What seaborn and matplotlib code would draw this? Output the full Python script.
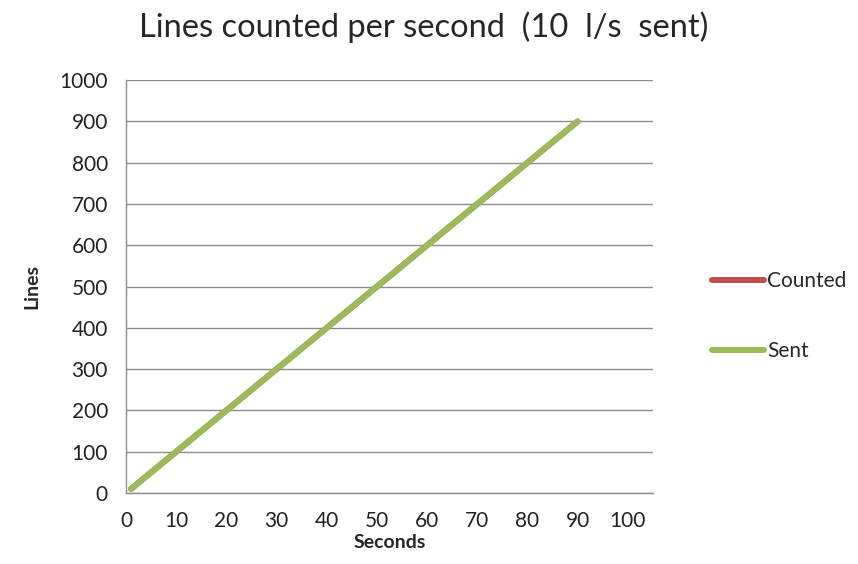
import matplotlib
matplotlib.use("Agg")
import matplotlib.pyplot as plt
import seaborn as sns
import pandas as pd

seconds = [1, 10, 20, 30, 40, 50, 60, 70, 80, 90]
counted = [10, 100, 200, 300, 400, 500, 600, 700, 800, 900]
sent = [10, 100, 200, 300, 400, 500, 600, 700, 800, 900]
x_ticks = [0, 10, 20, 30, 40, 50, 60, 70, 80, 90, 100]
y_ticks = [0, 100, 200, 300, 400, 500, 600, 700, 800, 900, 1000]

sns.set_style("white")
plt.rcParams['font.family'] = ['Lato', 'DejaVu Sans']

df = pd.DataFrame({
    "Seconds": seconds * 2,
    "Lines": counted + sent,
    "Series": ["Counted"] * len(seconds) + ["Sent"] * len(seconds),
})

fig = plt.figure(figsize=(8.58, 5.64), dpi=100)
ax = fig.add_axes([0.1469, 0.1259, 0.761 - 0.1469, 0.858 - 0.1259])
grid_c = "#8c8c8c"
sns.lineplot(data=df, x="Seconds", y="Lines", hue="Series",
             palette={"Counted": "#C0504D", "Sent": "#9BBB59"},
             linewidth=4.3, ax=ax, legend=False)
for l in ax.lines:
    l.set_solid_capstyle("round")

ax.set_xlim(0, 105)
ax.set_ylim(0, 1000)
ax.set_xticks(x_ticks)
ax.set_yticks(y_ticks)
ax.set_xticklabels([str(v) for v in x_ticks], fontsize=15, color="#222222")
ax.set_yticklabels([str(v) for v in y_ticks], fontsize=15, color="#222222")
ax.yaxis.grid(True, color=grid_c, linewidth=1.0)
ax.set_axisbelow(True)
for s in ["top", "right"]:
    ax.spines[s].set_visible(False)
for s in ["left", "bottom"]:
    ax.spines[s].set_color(grid_c)
    ax.spines[s].set_linewidth(1.0)
ax.tick_params(axis="both", which="major", direction="out", length=8,
               width=1.0, color=grid_c, pad=5)

ax.set_xlabel("Seconds", fontsize=14, fontweight="bold", labelpad=2)
ax.set_ylabel("Lines", fontsize=14, fontweight="bold", labelpad=14)
fig.suptitle("Lines counted per second  (10  l/s  sent)", fontsize=23.5,
             x=0.494, y=0.98, va="top")

from matplotlib.lines import Line2D
handles = [Line2D([0], [0], color="#C0504D", lw=4.3, solid_capstyle="round"),
           Line2D([0], [0], color="#9BBB59", lw=4.3, solid_capstyle="round")]
fig.legend(handles, ["Counted", "Sent"], loc="center left",
           bbox_to_anchor=(0.808, 0.44), frameon=False, fontsize=15,
           handlelength=2.5, handletextpad=0.15, labelspacing=2.4)

fig.savefig("out.png", dpi=100)
